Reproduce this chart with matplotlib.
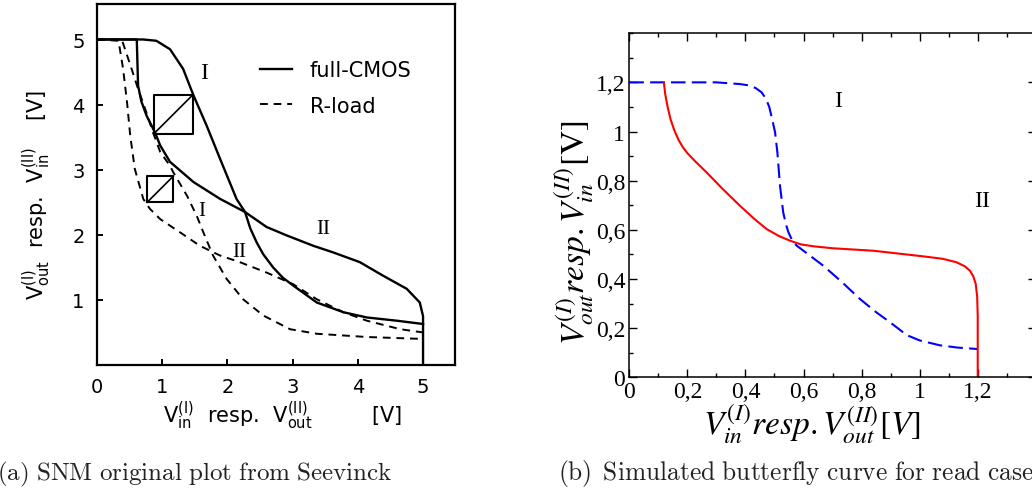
import matplotlib
matplotlib.use("Agg")
import matplotlib.pyplot as plt
from matplotlib.ticker import MultipleLocator

# ---------------- data: panel (a) (Seevinck, scanned) ----------------
cmos_I_x = [0.0, 0.71, 0.91, 1.12, 1.32, 1.48, 1.68, 1.89, 2.14, 2.27, 2.35, 2.45,
            2.55, 2.70, 2.85, 3.01, 3.37, 3.78, 4.14, 4.60, 5.0]
cmos_I_y = [5.0, 5.0, 4.98, 4.85, 4.55, 4.14, 3.68, 3.16, 2.55, 2.35, 2.10, 1.88,
            1.70, 1.50, 1.34, 1.22, 0.96, 0.81, 0.73, 0.68, 0.63]
cmos_II_x = [0.0, 0.61, 0.63, 0.68, 0.76, 0.89, 0.97, 1.12, 1.48, 1.89, 2.27, 2.60,
             2.91, 3.32, 3.62, 4.03, 4.39, 4.75, 4.95, 5.0, 5.0]
cmos_II_y = [5.0, 5.0, 4.29, 4.05, 3.83, 3.57, 3.37, 3.12, 2.81, 2.55, 2.35, 2.12,
             1.99, 1.83, 1.73, 1.58, 1.37, 1.17, 0.96, 0.75, 0.0]
rload_I_x = [0.0, 0.38, 0.53, 0.63, 0.74, 0.86, 0.97, 1.12, 1.17, 1.38, 1.53, 1.63,
             1.78, 1.99, 2.24, 2.55, 2.96, 3.37, 4.14, 5.0]
rload_I_y = [5.0, 5.0, 4.55, 4.24, 3.93, 3.57, 3.27, 3.06, 2.96, 2.60, 2.29, 2.04,
             1.68, 1.32, 1.01, 0.76, 0.55, 0.48, 0.43, 0.40]
rload_II_x = [0.0, 0.33, 0.40, 0.46, 0.51, 0.58, 0.71, 0.81, 0.97, 1.27, 1.58, 1.89,
              2.19, 2.60, 3.01, 3.37, 3.78, 4.14, 4.65, 5.0]
rload_II_y = [5.0, 4.98, 4.55, 4.04, 3.52, 3.01, 2.55, 2.40, 2.24, 2.04, 1.83, 1.68,
              1.58, 1.42, 1.24, 1.01, 0.81, 0.68, 0.55, 0.50]
snm_cmos_box = (0.87, 3.55, 1.47, 4.15)    # x0, y0, x1, y1
snm_rload_box = (0.77, 2.50, 1.17, 2.90)
a_ticks = [0, 1, 2, 3, 4, 5]
a_yticks = [1, 2, 3, 4, 5]

# ---------------- data: panel (b) (simulated) ----------------
blue_x = [0.0, 0.30, 0.381, 0.41, 0.435, 0.455, 0.470, 0.482, 0.492, 0.502, 0.510,
          0.519, 0.530, 0.540, 0.548, 0.560, 0.576, 0.62, 0.668, 0.73, 0.794, 0.85,
          0.898, 0.955, 1.0, 1.07, 1.13, 1.2]
blue_y = [1.2, 1.2, 1.193, 1.188, 1.177, 1.16, 1.135, 1.10, 1.05, 0.997, 0.915,
          0.78, 0.671, 0.62, 0.59, 0.56, 0.536, 0.497, 0.454, 0.39, 0.319, 0.265,
          0.224, 0.172, 0.150, 0.130, 0.121, 0.115]
red_x = [0.119, 0.124, 0.132, 0.142, 0.155, 0.170, 0.185, 0.200, 0.230, 0.266, 0.320,
         0.381, 0.430, 0.473, 0.515, 0.553, 0.590, 0.634, 0.70, 0.84, 1.013, 1.08,
         1.127, 1.155, 1.173, 1.185, 1.193, 1.198, 1.2, 1.2]
red_y = [1.2, 1.15, 1.10, 1.05, 1.005, 0.965, 0.935, 0.912, 0.875, 0.834, 0.768,
         0.698, 0.645, 0.603, 0.575, 0.556, 0.541, 0.533, 0.525, 0.515, 0.492, 0.482,
         0.468, 0.452, 0.434, 0.41, 0.38, 0.33, 0.25, 0.0]
b_ticks = [0, 0.2, 0.4, 0.6, 0.8, 1.0, 1.2]
b_ticklabels = ["0", "0,2", "0,4", "0,6", "0,8", "1", "1,2"]

W, H = 1032, 489
fig = plt.figure(figsize=(W / 100, H / 100), dpi=100)

# ======================= panel (a) =======================
ax1 = fig.add_axes([97 / W, 1 - 366 / H, (455 - 97) / W, (366 - 5) / H])
ax1.set_xlim(0, 5.49)
ax1.set_ylim(0, 5.545)
for s in ax1.spines.values():
    s.set_linewidth(1.6)
sans = "DejaVu Sans"
lw = 1.7
ax1.plot(cmos_I_x, cmos_I_y, color="black", lw=lw, label="full-CMOS")
ax1.plot(cmos_II_x, cmos_II_y, color="black", lw=lw)
ax1.plot(rload_I_x, rload_I_y, color="black", lw=1.4, dashes=(4, 3), label="R-load")
ax1.plot(rload_II_x, rload_II_y, color="black", lw=1.4, dashes=(4, 3))
for (x0, y0, x1, y1) in (snm_cmos_box, snm_rload_box):
    ax1.plot([x0, x1, x1, x0, x0], [y0, y0, y1, y1, y0], color="black", lw=1.5)
    ax1.plot([x0, x1], [y0, y1], color="black", lw=1.2)

ax1.set_xticks(a_ticks)
ax1.set_yticks(a_yticks)
ax1.tick_params(direction="in", length=4, width=1.4, labelsize=14, pad=9)
ax1.tick_params(top=False, right=False)
for t in ax1.get_xticklabels() + ax1.get_yticklabels():
    t.set_family(sans)

leg = ax1.legend(loc="upper left", bbox_to_anchor=(0.455, 0.845), frameon=False,
                 fontsize=15, handlelength=1.55, handletextpad=0.85, labelspacing=0.75,
                 borderpad=0, borderaxespad=0)
for t in leg.get_texts():
    t.set_family(sans)

serif = "Liberation Serif"
ax1.text(1.64, 4.50, "I", family=serif, fontsize=17, ha="center", va="center")
ax1.text(3.47, 2.09, "II", family=serif, fontsize=15, ha="center", va="center")
ax1.text(1.61, 2.37, "I", family=serif, fontsize=15, ha="center", va="center")
ax1.text(2.18, 1.74, "II", family=serif, fontsize=15, ha="center", va="center")

fig.text(283 / W, 1 - 416 / H,
         r"$\mathregular{V_{in}^{(I)}}$  resp.  $\mathregular{V_{out}^{(II)}}$         [V]",
         family=sans, fontsize=15, ha="center", va="center", math_fontfamily="dejavusans")
fig.text(37 / W, 1 - 195 / H,
         r"$\mathregular{V_{out}^{(I)}}$  resp.  $\mathregular{V_{in}^{(II)}}$    [V]",
         family=sans, fontsize=15, ha="center", va="center", rotation=90,
         math_fontfamily="dejavusans")

# ======================= panel (b) =======================
ax2 = fig.add_axes([629.3 / W, 1 - 378.3 / H, (1035.8 - 629.3) / W, (378.3 - 34.2) / H])
ax2.set_xlim(0, 1.4)
ax2.set_ylim(0, 1.4)
for s in ax2.spines.values():
    s.set_linewidth(1.1)
ax2.plot(blue_x, blue_y, color="#0000ff", lw=1.5, dashes=(7, 3))
ax2.plot(red_x, red_y, color="#ff0000", lw=1.5)
ax2.set_xticks(b_ticks)
ax2.set_xticklabels(b_ticklabels)
ax2.set_yticks(b_ticks)
ax2.set_yticklabels(b_ticklabels)
ax2.xaxis.set_minor_locator(MultipleLocator(0.1))
ax2.yaxis.set_minor_locator(MultipleLocator(0.1))
ax2.tick_params(which="both", direction="in", top=True, right=True, width=1.0)
ax2.tick_params(which="major", length=6, labelsize=17, pad=3)
ax2.tick_params(which="minor", length=3)
for t in ax2.get_xticklabels() + ax2.get_yticklabels():
    t.set_family(serif)
ax2.text(0.72, 1.125, "I", family=serif, fontsize=17, ha="center", va="center")
ax2.text(1.214, 0.719, "II", family=serif, fontsize=17, ha="center", va="center")

fig.text(812 / W, 1 - 425 / H, r"$V_{in}^{(I)}resp.V_{out}^{(II)}[V]$",
         fontsize=24, ha="center", va="center", math_fontfamily="stix")
fig.text(575 / W, 1 - 233 / H, r"$V_{out}^{(I)}resp.V_{in}^{(II)}[\mathrm{V}]$",
         fontsize=24, ha="center", va="center", rotation=90, math_fontfamily="stix")

# ======================= captions =======================
fig.text(-3 / W, 1 - 480 / H, r"$\mathrm{(a)\ SNM\ original\ plot\ from\ Seevinck}$",
         fontsize=18, ha="left", va="baseline", math_fontfamily="cm", color="#222222")
fig.text(558 / W, 1 - 480 / H,
         r"$\mathrm{(b)\ \,Simulated\ butterfly\ curve\ for\ read\ case}$",
         fontsize=18.3, ha="left", va="baseline", math_fontfamily="cm", color="#222222")

fig.savefig("out.png", dpi=100)
